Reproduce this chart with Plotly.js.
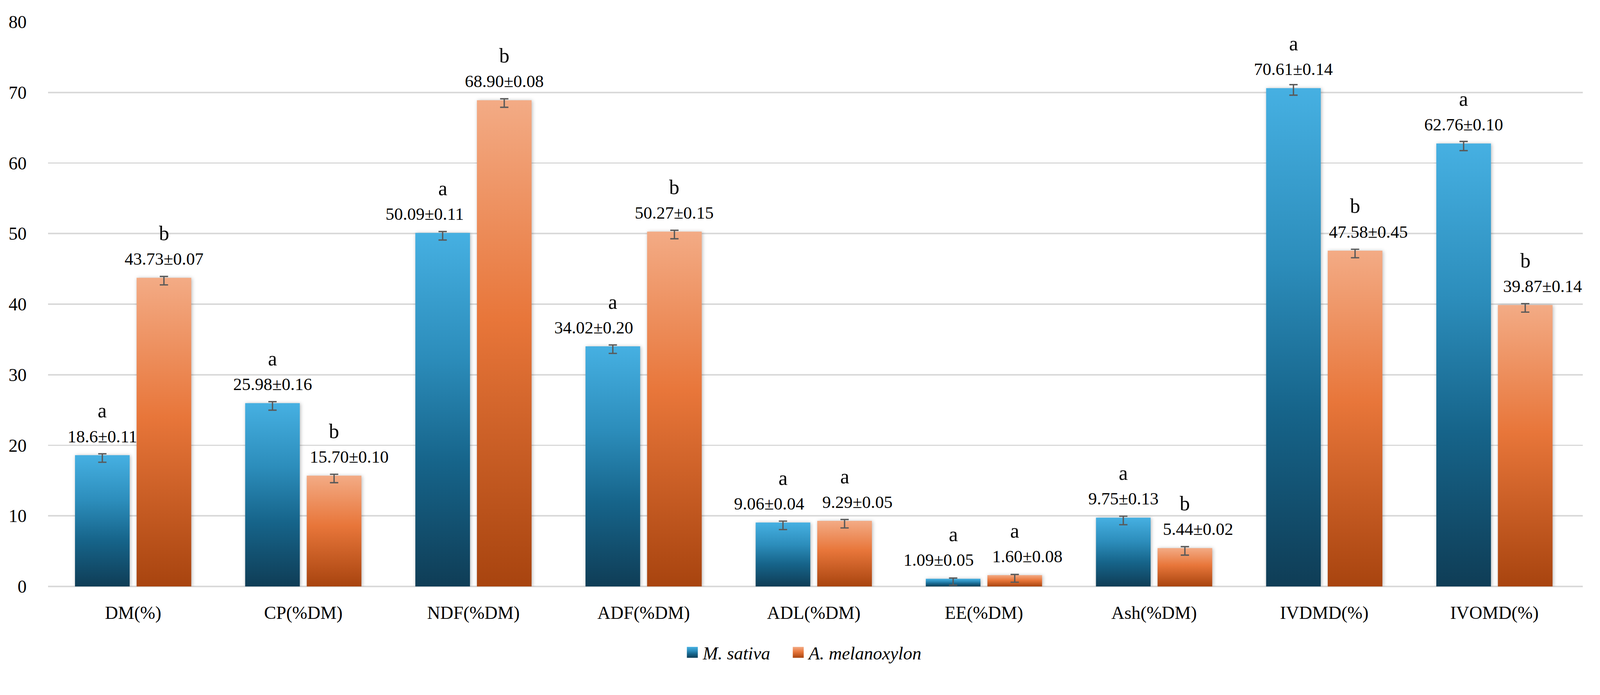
<!DOCTYPE html>
<html>
<head>
<meta charset="utf-8">
<script src="https://cdn.plot.ly/plotly-3.0.1.min.js"></script>
<style>
  html, body { margin: 0; padding: 0; background: #ffffff; overflow: hidden; }
  #chart { display: block; }
</style>
</head>
<body>
<div id="chart"></div>
<script>
// ---- data ----
const categories = ['DM(%)', 'CP(%DM)', 'NDF(%DM)', 'ADF(%DM)', 'ADL(%DM)', 'EE(%DM)', 'Ash(%DM)', 'IVDMD(%)', 'IVOMD(%)'];

const sativaValues = [18.6, 25.98, 50.09, 34.02, 9.06, 1.09, 9.75, 70.61, 62.76];
const sativaLabels = ['18.6±0.11', '25.98±0.16', '50.09±0.11', '34.02±0.20', '9.06±0.04', '1.09±0.05', '9.75±0.13', '70.61±0.14', '62.76±0.10'];
const sativaLetters = ['a', 'a', 'a', 'a', 'a', 'a', 'a', 'a', 'a'];
const sativaErrPlus = [0.2, 0.2, 0.2, 0.2, 0.2, 0.1, 0.2, 0.5, 0.3];
const sativaErrMinus = [1.0, 1.0, 1.0, 1.0, 1.0, 0.9, 1.0, 1.0, 1.0];

const melanoValues = [43.73, 15.70, 68.90, 50.27, 9.29, 1.60, 5.44, 47.58, 39.87];
const melanoLabels = ['43.73±0.07', '15.70±0.10', '68.90±0.08', '50.27±0.15', '9.29±0.05', '1.60±0.08', '5.44±0.02', '47.58±0.45', '39.87±0.14'];
const melanoLetters = ['b', 'b', 'b', 'b', 'a', 'a', 'b', 'b', 'b'];
const melanoErrPlus = [0.2, 0.2, 0.2, 0.2, 0.2, 0.1, 0.2, 0.2, 0.2];
const melanoErrMinus = [1.0, 1.0, 1.0, 1.0, 1.0, 1.0, 1.0, 1.0, 1.0];

const yTickVals = [0, 10, 20, 30, 40, 50, 60, 70, 80];

// ---- sizing (fit the design size 4240x1780 into the actual viewport) ----
const W0 = 4240, H0 = 1780;
const vw = window.innerWidth || document.documentElement.clientWidth || W0;
const vh = window.innerHeight || document.documentElement.clientHeight || H0;
const S = Math.min(vw / W0, vh / H0);
const px = v => v * S;

// ---- style ----
const FONT = '"Liberation Serif", "Times New Roman", serif';
const BARGAP = 0.276;
const BARGROUPGAP = 0.113;
const offset = (1 - BARGAP) / 4;
// horizontal nudges (design px) of the value labels, as placed in the source figure
const sativaLabelNudge = [0, 0, -48, -51, -37, -38, 0, 0, 0];
const melanoLabelNudge = [0, 40, 0, 0, 34, 33, 35, 35, 46];

const errStyle = { color: '#595959', thickness: px(3.5), width: px(11) };

const traces = [
  {
    type: 'bar', name: 'M. sativa', x: categories, y: sativaValues, legend: 'legend',
    marker: { color: '#2a86b3', line: { width: 0 } },
    error_y: Object.assign({ type: 'data', symmetric: false, array: sativaErrPlus, arrayminus: sativaErrMinus, visible: true }, errStyle)
  },
  {
    type: 'bar', name: 'A. melanoxylon', x: categories, y: melanoValues, legend: 'legend2',
    marker: { color: '#e97a3e', line: { width: 0 } },
    error_y: Object.assign({ type: 'data', symmetric: false, array: melanoErrPlus, arrayminus: melanoErrMinus, visible: true }, errStyle)
  }
];

const annotations = [];
function addLabels(values, labels, letters, nudges, side) {
  values.forEach((v, i) => {
    annotations.push({
      x: i + side * offset, y: v, xref: 'x', yref: 'y',
      text: labels[i], showarrow: false, xanchor: 'center', yanchor: 'middle',
      xshift: px(nudges[i]), yshift: px(50),
      font: { family: FONT, size: px(46), color: '#000000' }
    });
    annotations.push({
      x: i + side * offset, y: v, xref: 'x', yref: 'y',
      text: letters[i], showarrow: false, xanchor: 'center', yanchor: 'middle',
      yshift: px(118),
      font: { family: FONT, size: px(54), color: '#000000' }
    });
  });
}
addLabels(sativaValues, sativaLabels, sativaLetters, sativaLabelNudge, -1);
addLabels(melanoValues, melanoLabels, melanoLetters, melanoLabelNudge, 1);

const legendBase = {
  orientation: 'h', xanchor: 'left', y: -0.117, yanchor: 'middle',
  font: { family: FONT, size: px(48), color: '#000000', style: 'italic' },
  itemwidth: px(45), borderwidth: 0, bgcolor: 'rgba(0,0,0,0)',
  itemclick: false, itemdoubleclick: false
};

const layout = {
  width: px(W0), height: px(H0), autosize: false,
  margin: { l: px(127), r: px(46), t: px(58), b: px(224), pad: 0 },
  paper_bgcolor: '#ffffff', plot_bgcolor: '#ffffff',
  barmode: 'group', bargap: BARGAP, bargroupgap: BARGROUPGAP,
  font: { family: FONT, size: px(48), color: '#000000' },
  showlegend: true,
  legend: Object.assign({}, legendBase, { x: 0.413 }),
  legend2: Object.assign({}, legendBase, { x: 0.482 }),
  xaxis: {
    type: 'category', showgrid: false, showline: false, zeroline: false,
    ticks: 'outside', ticklen: px(27), tickcolor: 'rgba(0,0,0,0)',
    tickfont: { family: FONT, size: px(48), color: '#000000' }
  },
  yaxis: {
    range: [0, 80], tickvals: yTickVals, ticktext: yTickVals.map(String),
    showgrid: true, gridcolor: '#d9d9d9', gridwidth: px(4),
    zeroline: true, zerolinecolor: '#d9d9d9', zerolinewidth: px(4),
    showline: false, ticks: 'outside', ticklen: px(46), tickcolor: 'rgba(0,0,0,0)',
    tickfont: { family: FONT, size: px(48), color: '#000000' }
  },
  annotations: annotations
};

Plotly.newPlot('chart', traces, layout, { staticPlot: true, displayModeBar: false }).then(gd => {
  const ns = 'http://www.w3.org/2000/svg';
  const svg = gd.querySelector('.main-svg');
  let defs = svg.querySelector('defs');
  if (!defs) { defs = document.createElementNS(ns, 'defs'); svg.insertBefore(defs, svg.firstChild); }
  function addGrad(id, stops) {
    const g = document.createElementNS(ns, 'linearGradient');
    g.setAttribute('id', id);
    g.setAttribute('x1', '0'); g.setAttribute('y1', '0');
    g.setAttribute('x2', '0'); g.setAttribute('y2', '1');
    stops.forEach(s => {
      const st = document.createElementNS(ns, 'stop');
      st.setAttribute('offset', s[0]);
      st.setAttribute('stop-color', s[1]);
      g.appendChild(st);
    });
    defs.appendChild(g);
  }
  addGrad('gradBlue', [[0, '#46b0e2'], [0.35, '#2c8dbb'], [0.65, '#16648a'], [1, '#0f3d56']]);
  addGrad('gradOrange', [[0, '#f3ab85'], [0.45, '#e8763a'], [1, '#a8440f']]);
  const ids = ['gradBlue', 'gradOrange'];
  gd.querySelectorAll('.barlayer .trace').forEach((t, i) => {
    t.querySelectorAll('.point path').forEach(p => {
      p.style.fill = 'url(#' + ids[i] + ')';
      p.style.filter = 'drop-shadow(' + px(3) + 'px ' + px(2) + 'px ' + px(5) + 'px rgba(0,0,0,0.28))';
    });
  });
  const h = px(14.5);
  const legends = [gd.querySelector('.legend'), gd.querySelector('.legend2')];
  legends.forEach((lg, i) => {
    if (!lg) return;
    lg.querySelectorAll('.legendpoints path').forEach(p => {
      p.setAttribute('d', 'M' + h + ',' + h + 'H' + (-h) + 'V' + (-h) + 'H' + h + 'Z');
      p.style.fill = 'url(#' + ids[i] + ')';
    });
  });
});
</script>
</body>
</html>
